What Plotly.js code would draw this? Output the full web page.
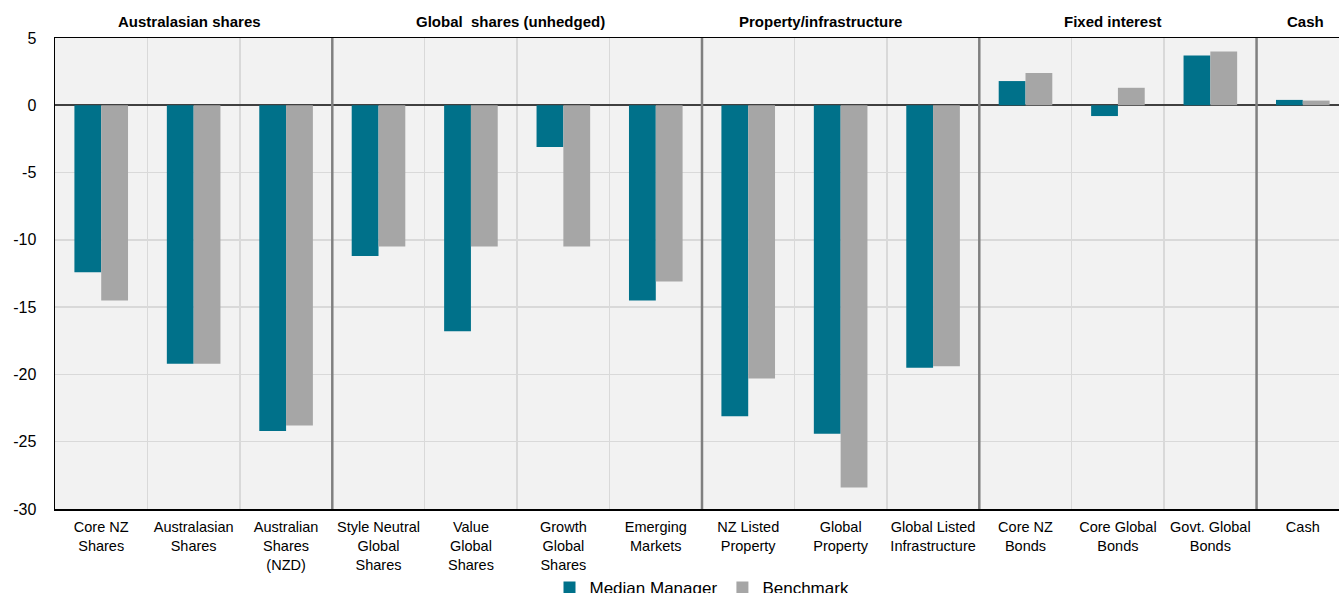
<!DOCTYPE html>
<html>
<head>
<meta charset="utf-8">
<script src="https://cdn.plot.ly/plotly-3.0.1.min.js"></script>
<style>
  html, body { margin: 0; padding: 0; overflow: hidden; background: #fff; }
  #chart { width: 1360px; height: 600px; }
</style>
</head>
<body>
<div id="chart"></div>
<script>
// ---- Data ----
const categories = [
  "Core NZ<br>Shares", "Australasian<br>Shares", "Australian<br>Shares<br>(NZD)",
  "Style Neutral<br>Global<br>Shares", "Value<br>Global<br>Shares", "Growth<br>Global<br>Shares", "Emerging<br>Markets",
  "NZ Listed<br>Property", "Global<br>Property", "Global Listed<br>Infrastructure",
  "Core NZ<br>Bonds", "Core Global<br>Bonds", "Govt. Global<br>Bonds",
  "Cash"
];
const medianManager = [-12.4, -19.2, -24.2, -11.2, -16.8, -3.1, -14.5, -23.1, -24.4, -19.5, 1.8, -0.8, 3.7, 0.4];
const benchmark     = [-14.5, -19.2, -23.8, -10.5, -10.5, -10.5, -13.1, -20.3, -28.4, -19.4, 2.4, 1.3, 4.0, 0.35];
const groupNames  = ["Australasian shares", "Global  shares (unhedged)", "Property/infrastructure", "Fixed interest", "Cash"];
const groupSizes  = [3, 4, 3, 3, 1];
const yTicks = [5, 0, -5, -10, -15, -20, -25, -30];

// ---- Styles ----
const teal = "#00718A";
const grey = "#A6A6A6";
const fontFam = "Liberation Sans, Arial, sans-serif";

const traces = [
  { type: "bar", name: "Median Manager", x: categories, y: medianManager,
    marker: { color: teal, line: { width: 0 } } },
  { type: "bar", name: "Benchmark", x: categories, y: benchmark,
    marker: { color: grey, line: { width: 0 } } }
];

// group dividers and headers
const shapes = [];
const annotations = [];
const headerOffsets = [-0.05, -0.07, -0.22, -0.05, 0.03];
let start = 0;
groupSizes.forEach((n, i) => {
  const end = start + n;
  if (i < groupSizes.length - 1) {
    shapes.push({ type: "line", xref: "x", yref: "paper", x0: end - 0.5, x1: end - 0.5, y0: 0, y1: 1,
      line: { color: "#808080", width: 2.5 }, layer: "above" });
  }
  annotations.push({ xref: "x", yref: "paper", x: (start + end - 1) / 2 + headerOffsets[i], y: 1.034,
    text: "<b>" + groupNames[i] + "</b>", showarrow: false, xanchor: "center", yanchor: "middle",
    font: { family: fontFam, size: 15, color: "#000" } });
  start = end;
});

const layout = {
  width: 1360, height: 600,
  margin: { l: 55, r: 11, t: 38, b: 91, autoexpand: false },
  paper_bgcolor: "#ffffff",
  plot_bgcolor: "#F2F2F2",
  barmode: "group",
  bargap: 0.42,
  bargroupgap: 0,
  font: { family: fontFam, size: 14.5, color: "#000" },
  showlegend: true,
  legend: { orientation: "h", x: 0.5, xanchor: "center", yref: "container", y: 0.02, yanchor: "middle",
    font: { family: fontFam, size: 17, color: "#000" }, itemwidth: 30, tracegroupgap: 0 },
  xaxis: {
    type: "category",
    tickson: "boundaries",
    tickangle: 0,
    automargin: false,
    showgrid: true, gridcolor: "#D9D9D9", gridwidth: 1.5,
    showline: true, linecolor: "#000", linewidth: 1.5, mirror: true,
    ticks: "", ticklabelstandoff: 4, tickfont: { family: fontFam, size: 14.5, color: "#000" },
    zeroline: false, fixedrange: true
  },
  yaxis: {
    range: [-30, 5],
    automargin: false,
    tickvals: yTicks, ticktext: yTicks.map(String),
    showgrid: true, gridcolor: "#D9D9D9", gridwidth: 1.5,
    zeroline: true, zerolinecolor: "#404040", zerolinewidth: 2,
    showline: true, linecolor: "#000", linewidth: 1.5, mirror: true,
    ticks: "", ticklabelstandoff: 14,
    tickfont: { family: fontFam, size: 16, color: "#000" }
  },
  shapes: shapes,
  annotations: annotations
};

Plotly.newPlot("chart", traces, layout, { displayModeBar: false, staticPlot: true });
</script>
</body>
</html>
